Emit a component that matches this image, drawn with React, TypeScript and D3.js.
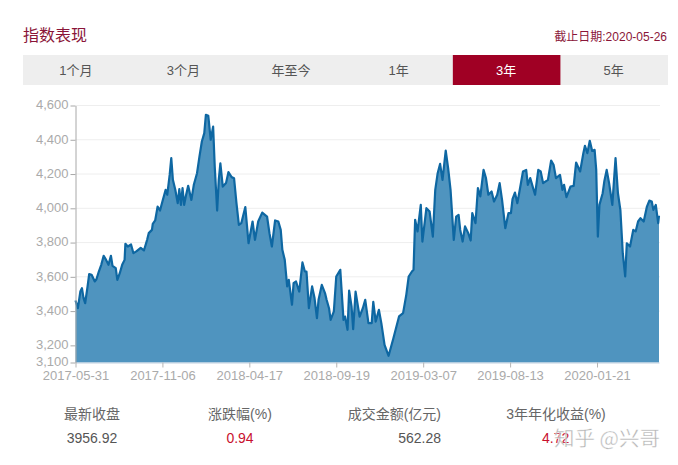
import React, { FC, useEffect, useRef } from 'react'
import * as d3 from 'd3'

const tabs = ['1个月', '3个月', '年至今', '1年', '3年', '5年']
const activeTab = '3年'

const yTicks = [3100, 3200, 3400, 3600, 3800, 4000, 4200, 4400, 4600]
const xTickDays = [0, 108, 216, 324, 432, 540, 648]
const xTickLabels = ['2017-05-31', '2017-11-06', '2018-04-17', '2018-09-19', '2019-03-07', '2019-08-13', '2020-01-21']
const lastDay = 725

// 交易日序号，从图上读出的拐点
const tradingDays = [
	0, 3, 6, 8, 10, 12, 15, 17, 20, 24, 26, 29, 32, 35, 38, 41, 44, 46, 50, 52, 55, 58, 61, 62, 65, 69, 72, 76, 81, 85,
	89, 91, 95, 96, 99, 102, 105, 108, 112, 114, 117, 119, 121, 124, 127, 129, 131, 133, 135, 137, 140, 144, 147, 151,
	154, 157, 160, 162, 165, 168, 171, 173, 176, 178, 180, 183, 187, 190, 194, 197, 200, 203, 206, 211, 215, 220, 223,
	227, 232, 238, 241, 244, 248, 252, 255, 257, 260, 263, 265, 269, 271, 274, 278, 282, 285, 287, 290, 294, 297, 300,
	302, 306, 310, 312, 315, 317, 321, 324, 329, 333, 335, 338, 340, 343, 345, 348, 353, 357, 360, 364, 368, 370, 373,
	377, 380, 384, 389, 395, 402, 407, 411, 414, 418, 420, 422, 425, 429, 431, 436, 440, 444, 447, 450, 453, 456, 460,
	463, 466, 470, 473, 476, 478, 481, 484, 488, 491, 493, 497, 500, 503, 507, 510, 513, 517, 520, 524, 527, 530, 534,
	538, 541, 543, 546, 549, 552, 556, 560, 562, 565, 571, 575, 578, 581, 587, 591, 594, 597, 602, 605, 607, 610, 615,
	619, 622, 627, 631, 633, 636, 639, 642, 645, 647, 649, 651, 655, 657, 660, 663, 667, 671, 674, 677, 680, 683, 685,
	689, 693, 696, 699, 702, 706, 710, 713, 716, 718, 721, 724, 725
]

const closes = [
	3462, 3417, 3514, 3534, 3476, 3446, 3544, 3616, 3612, 3573, 3586, 3631, 3670, 3723, 3699, 3670, 3723, 3664, 3651, 3582,
	3621, 3670, 3699, 3793, 3777, 3789, 3738, 3750, 3769, 3754, 3816, 3855, 3874, 3909, 3929, 4010, 3987, 4040, 4108, 4079,
	4195, 4293, 4166, 4108, 4030, 4112, 4020, 4118, 4020, 4069, 4131, 4049, 4137, 4205, 4302, 4390, 4439, 4546, 4540, 4400,
	4477, 4244, 3987, 4166, 4263, 4127, 4147, 4211, 4182, 4176, 4030, 3903, 3913, 4007, 3796, 3923, 3816, 3923, 3975, 3952,
	3855, 3777, 3929, 3923, 3874, 3758, 3699, 3544, 3582, 3437, 3563, 3573, 3514, 3684, 3631, 3631, 3417, 3544, 3476, 3359,
	3466, 3553, 3505, 3466, 3417, 3349, 3398, 3602, 3641, 3349, 3368, 3291, 3520, 3427, 3294, 3514, 3368, 3417, 3466, 3330,
	3330, 3454, 3339, 3407, 3330, 3203, 3139, 3242, 3369, 3388, 3495, 3602, 3631, 3641, 3933, 3865, 4020, 3806, 4001, 3981,
	3835, 4108, 4205, 4259, 4166, 4337, 4234, 4108, 3816, 3952, 3962, 3874, 3806, 3894, 3855, 3812, 3972, 3913, 4118, 4069,
	4224, 4176, 4079, 4098, 4040, 4079, 4147, 4049, 3884, 3972, 3972, 4053, 4092, 4030, 4108, 4215, 4224, 4137, 4176, 4079,
	4224, 4215, 4147, 4166, 4279, 4254, 4176, 4195, 4108, 4137, 4065, 4127, 4131, 4267, 4215, 4322, 4365, 4322, 4394, 4335,
	4341, 4224, 3835, 4020, 4088, 4156, 4224, 4147, 4020, 4293, 4088, 3991, 3738, 3602, 3796, 3777, 3874, 3865, 3923, 3942,
	3923, 4010, 4045, 4040, 3991, 4020, 3913, 3957
]

const statLabels = ['最新收盘', '涨跌幅(%)', '成交金额(亿元)', '3年年化收益(%)']
const statValues = ['3956.92', '0.94', '562.28', '4.72']

const width = 678
const height = 465
const plot = { left: 75.5, right: 659, top: 105.5, bottom: 362.5 }
const latin = '"Liberation Sans", Arial, sans-serif'
const cjk = '"Liberation Sans", "Noto Sans CJK SC", sans-serif'

const x = d3.scaleLinear().domain([0, lastDay]).range([plot.left, plot.right])
const y = d3.scaleLinear().domain([3100, 4600]).range([plot.bottom, plot.top])
const tabBand = d3.scaleBand().domain(tabs).range([22.5, 668])

const rows = tradingDays.map((d, i) => ({ day: d, close: closes[i] }))

const App: FC = () => {
	const xAxis = useRef<SVGGElement>(null)
	const yAxis = useRef<SVGGElement>(null)

	useEffect(() => {
		if (xAxis.current) {
			const axis = d3
				.axisBottom(x)
				.tickValues(xTickDays)
				.tickSize(5)
				.tickSizeOuter(0)
				.tickFormat((d, i) => xTickLabels[i])
			const g = d3.select(xAxis.current).call(axis)
			g.select('.domain').attr('stroke', '#c0d0e0').attr('stroke-width', 1)
			g.selectAll('.tick line').attr('stroke', '#b5b5b5')
			g.selectAll('.tick text')
				.attr('fill', '#aaaaaa')
				.attr('font-size', 13)
				.attr('font-family', latin)
				.attr('dy', '0.6em')
				.attr('y', 10)
		}
		if (yAxis.current) {
			const axis = d3
				.axisLeft(y)
				.tickValues(yTicks)
				.tickSize(5)
				.tickSizeOuter(0)
				.tickFormat(d3.format(','))
			const g = d3.select(yAxis.current).call(axis)
			g.select('.domain').attr('stroke', '#a8a8a8').attr('stroke-width', 1)
			g.selectAll('.tick line').attr('stroke', '#a8a8a8')
			g.selectAll('.tick text')
				.attr('fill', '#aaaaaa')
				.attr('font-size', 13)
				.attr('font-family', latin)
				.attr('x', -7)
				.attr('dy', '0.25em')
		}
	}, [])

	const area = d3
		.area<{ day: number; close: number }>()
		.x((d) => x(d.day))
		.y0(plot.bottom)
		.y1((d) => y(d.close))
	const line = d3
		.line<{ day: number; close: number }>()
		.x((d) => x(d.day))
		.y((d) => y(d.close))

	return (
		<svg
			width={width}
			height={height}
			style={{ position: 'absolute', left: 0, top: 0, background: '#fff' }}
		>
			<text x={23} y={41} fontSize={16} fill="#8a1538" fontFamily={cjk}>
				指数表现
			</text>
			<text x={667} y={41} fontSize={12} fill="#8a1538" textAnchor="end" fontFamily={cjk}>
				截止日期:2020-05-26
			</text>

			{/* tabs */}
			<rect x={23} y={55} width={645} height={30} fill="#eeeeee" />
			{tabs.map((t) => (
				<g key={t}>
					{t === activeTab && (
						<rect x={tabBand(t)} y={55} width={tabBand.bandwidth()} height={30} fill="#a00024" />
					)}
					<text
						x={tabBand(t)! + tabBand.bandwidth() / 2 - 0.5}
						y={74.5}
						fontSize={13}
						textAnchor="middle"
						fill={t === activeTab ? '#ffffff' : '#555555'}
						fontFamily={cjk}
					>
						{t}
					</text>
				</g>
			))}

			{/* grid */}
			{yTicks
				.filter((t) => t !== 3100 && t !== 3200)
				.map((t) => (
					<line key={t} x1={plot.left} x2={plot.right + 1} y1={y(t)} y2={y(t)} stroke="#eeeeee" />
				))}

			<path d={area(rows) || ''} fill="#4f94bf" />
			<path d={line(rows) || ''} fill="none" stroke="#0e67a2" strokeWidth={2.2} strokeLinejoin="round" />

			<g ref={xAxis} transform={`translate(0, ${plot.bottom})`} />
			<g ref={yAxis} transform={`translate(${plot.left}, 0)`} />

			{/* stats */}
			<g fontFamily={cjk} fontSize={14}>
				<text x={92} y={419} textAnchor="middle" fill="#666">{statLabels[0]}</text>
				<text x={240} y={419} textAnchor="middle" fill="#666">{statLabels[1]}</text>
				<text x={441} y={419} textAnchor="end" fill="#666">{statLabels[2]}</text>
				<text x={556} y={419} textAnchor="middle" fill="#666">{statLabels[3]}</text>
				<text x={92} y={443} textAnchor="middle" fill="#555">{statValues[0]}</text>
				<text x={240} y={443} textAnchor="middle" fill="#c8102e">{statValues[1]}</text>
				<text x={441} y={443} textAnchor="end" fill="#555">{statValues[2]}</text>
				<text x={542} y={443} fill="#c8102e">{statValues[3]}</text>
			</g>

			{/* watermark */}
			<text
				x={554}
				y={446}
				fontSize={20.5}
				fill="#a0a0a0"
				fillOpacity={0.8}
				stroke="#ffffff"
				strokeWidth={0.4}
				fontFamily='"Noto Sans CJK SC", sans-serif'
			>
				知乎 @兴哥
			</text>
		</svg>
	)
}

export default App
